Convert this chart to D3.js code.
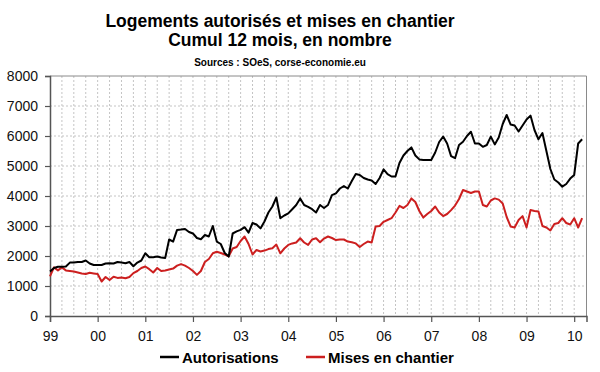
<!DOCTYPE html>
<html>
<head>
<meta charset="utf-8">
<script src="https://cdn.jsdelivr.net/npm/d3@7"></script>
<style>
body { margin: 0; background: #fff; }
svg { display: block; font-family: "Liberation Sans", Arial, sans-serif; }
</style>
</head>
<body>
<div id="chart"></div>
<script>
// libellés des années (un tick par janvier)
var yearLabels = ["99", "00", "01", "02", "03", "04", "05", "06", "07", "08", "09", "10"];
var yTicks = [0, 1000, 2000, 3000, 4000, 5000, 6000, 7000, 8000];

// cumul 12 mois, mensuel de janvier 1999 à mars 2010
var autorisations = [
	1480, 1600, 1640, 1640, 1650, 1780, 1780, 1800, 1800, 1850, 1750, 1700,
	1700, 1700, 1750, 1760, 1750, 1800, 1780, 1760, 1800, 1660, 1780, 1850,
	2090, 1960, 1960, 1980, 1950, 1930, 2550, 2480, 2870, 2880, 2900, 2800,
	2750, 2600, 2560, 2700, 2650, 3000, 2480, 2400, 2100, 1980, 2750, 2820,
	2870, 2960, 2780, 3100, 3050, 2920, 3150, 3450, 3650, 3950, 3260, 3350,
	3420, 3560, 3700, 3920, 3700, 3640, 3560, 3450, 3700, 3600, 3700, 4030,
	4090, 4250, 4330, 4250, 4500, 4730, 4700, 4600, 4550, 4520, 4400, 4600,
	4890, 4730, 4650, 4650, 5100, 5350, 5500, 5620, 5350, 5220, 5200, 5200,
	5200, 5450, 5800, 5980, 5750, 5330, 5260, 5700, 5810, 6000, 6140, 5750,
	5750, 5640, 5700, 5980, 5720, 5950, 6400, 6700, 6380, 6350, 6150, 6350,
	6550, 6680, 6200, 5890, 6100, 5500, 4900, 4550, 4450, 4310, 4400, 4580,
	4700, 5750, 5890
];
var misesEnChantier = [
	1320, 1620, 1520, 1620, 1520, 1500, 1480, 1450, 1420, 1400, 1440, 1420,
	1400, 1150, 1300, 1200, 1310, 1270, 1280, 1260, 1300, 1430, 1500, 1600,
	1650, 1560, 1450, 1600, 1500, 1520, 1550, 1580, 1680, 1730, 1680, 1600,
	1500, 1370, 1500, 1800, 1900, 2090, 2140, 2100, 2050, 1990, 2250, 2300,
	2500, 2650, 2400, 2050, 2200, 2150, 2180, 2230, 2260, 2380, 2090, 2250,
	2370, 2420, 2450, 2590, 2450, 2370, 2550, 2590, 2460, 2580, 2650, 2600,
	2530, 2550, 2550, 2480, 2460, 2420, 2300, 2400, 2480, 2450, 2980, 3000,
	3140, 3200, 3260, 3450, 3670, 3600, 3700, 3920, 3800, 3500, 3280, 3400,
	3500, 3650, 3450, 3330, 3400, 3530, 3680, 3900, 4200, 4150, 4100, 4150,
	4150, 3700, 3650, 3850, 3920, 3880, 3750, 3300, 2980, 2950, 3200, 3330,
	2950, 3530, 3500, 3480, 3000, 2950, 2850, 3070, 3100, 3260, 3100, 3050,
	3260, 2950, 3260
];

var width = 600, height = 372;
var plotLeft = 50, plotRight = 586.5, plotTop = 76, plotBottom = 316;

var svg = d3.select("#chart").append("svg")
	.attr("width", width)
	.attr("height", height);

var x = d3.scaleLinear().domain([0, 135.1]).range([plotLeft, plotRight]);
var y = d3.scaleLinear().domain([0, 8000]).range([plotBottom, plotTop]);

// titres
svg.append("text").attr("x", 280).attr("y", 27).attr("text-anchor", "middle")
	.style("font-weight", "bold").style("font-size", "17.5px")
	.text("Logements autorisés et mises en chantier");
svg.append("text").attr("x", 280).attr("y", 46).attr("text-anchor", "middle")
	.style("font-weight", "bold").style("font-size", "17.5px")
	.text("Cumul 12 mois, en nombre");
svg.append("text").attr("x", 280).attr("y", 66).attr("text-anchor", "middle")
	.style("font-weight", "bold").style("font-size", "10px")
	.text("Sources : SOeS, corse-economie.eu");

// grille verticale, tous les trimestres
var quarters = d3.range(3, 135, 3);
svg.append("g").selectAll("line").data(quarters).enter().append("line")
	.attr("x1", function(d) { return x(d); })
	.attr("x2", function(d) { return x(d); })
	.attr("y1", plotTop)
	.attr("y2", plotBottom)
	.attr("stroke", "#c4c4c4")
	.attr("stroke-width", 1)
	.attr("stroke-dasharray", "2,2");

// grille horizontale
svg.append("g").selectAll("line").data(yTicks.slice(1, -1)).enter().append("line")
	.attr("x1", plotLeft)
	.attr("x2", plotRight)
	.attr("y1", function(d) { return y(d); })
	.attr("y2", function(d) { return y(d); })
	.attr("stroke", "#c4c4c4")
	.attr("stroke-width", 1)
	.attr("stroke-dasharray", "2,2");

// cadre haut et droit
svg.append("path")
	.attr("d", "M" + plotLeft + "," + plotTop + "H" + plotRight + "V" + plotBottom)
	.attr("fill", "none")
	.attr("stroke", "#8a8a8a")
	.attr("stroke-width", 1);

// axes
var yAxis = svg.append("g")
	.attr("transform", "translate(" + plotLeft + ",0)")
	.call(d3.axisLeft(y).tickValues(yTicks).tickFormat(d3.format("d"))
		.tickSize(5).tickPadding(7));
var xAxis = svg.append("g")
	.attr("transform", "translate(0," + plotBottom + ")")
	.call(d3.axisBottom(x)
		.tickValues(yearLabels.map(function(d, i) { return i * 12; }))
		.tickFormat(function(d) { return yearLabels[d / 12]; })
		.tickSize(6).tickPadding(9));

[yAxis, xAxis].forEach(function(a) {
	a.select(".domain").attr("stroke", "#555").attr("stroke-width", 1.5);
	a.selectAll(".tick line").attr("stroke", "#555").attr("stroke-width", 1.2);
	a.selectAll(".tick text").attr("fill", "#111").style("font-size", "14px")
		.style("font-family", "Liberation Sans, Arial, sans-serif");
});

// courbes
var line = d3.line()
	.x(function(d, i) { return x(i); })
	.y(function(d) { return y(d); });

svg.append("path").datum(misesEnChantier)
	.attr("d", line)
	.attr("fill", "none")
	.attr("stroke", "#cc1f1f")
	.attr("stroke-width", 2)
	.attr("stroke-linejoin", "round");

svg.append("path").datum(autorisations)
	.attr("d", line)
	.attr("fill", "none")
	.attr("stroke", "#000")
	.attr("stroke-width", 2)
	.attr("stroke-linejoin", "round");

// légende
var legend = [
	{label: "Autorisations", color: "#000", x: 160},
	{label: "Mises en chantier", color: "#cc1f1f", x: 306}
];
var lg = svg.append("g").selectAll("g").data(legend).enter().append("g")
	.attr("transform", function(d) { return "translate(" + d.x + ",357)"; });
lg.append("line")
	.attr("x1", 0).attr("x2", 19).attr("y1", 0).attr("y2", 0)
	.attr("stroke", function(d) { return d.color; })
	.attr("stroke-width", 2.5);
lg.append("text")
	.attr("x", 22).attr("y", 6)
	.style("font-weight", "bold").style("font-size", "15px")
	.text(function(d) { return d.label; });
</script>
</body>
</html>
